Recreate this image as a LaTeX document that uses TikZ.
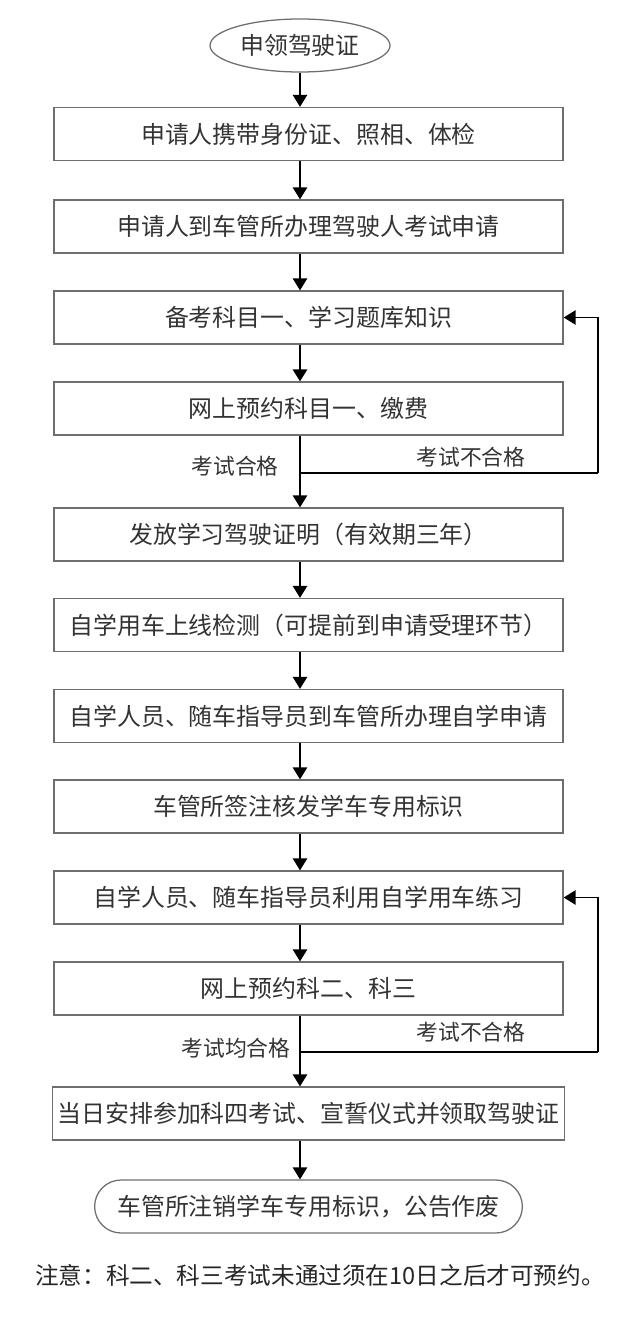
\documentclass[tikz,border=0pt]{standalone}
\usepackage{fontspec}
\newfontfamily\cjk{Noto Sans CJK SC}
\usepackage{tikz}
\usetikzlibrary{shapes.geometric,shapes.misc,arrows.meta,positioning}
\definecolor{boxgray}{HTML}{6E6E6E}
\definecolor{textgray}{HTML}{333333}
\tikzset
{
    flowbox/.style  = {rectangle, draw=boxgray, line width=0.9pt, text=textgray, align=center, minimum width=12.725cm, minimum height=1.325cm, font=\cjk\fontsize{17}{20}\selectfont},
    startnode/.style = {ellipse, draw=boxgray, line width=0.9pt, text=textgray, minimum width=4.5cm, minimum height=1.325cm, inner sep=0pt, font=\cjk\fontsize{17}{20}\selectfont},
    endnode/.style  = {rounded rectangle, draw=boxgray, line width=0.9pt, text=textgray, minimum width=10.925cm, minimum height=1.325cm, font=\cjk\fontsize{17}{20}\selectfont},
    flowarrow/.style = {line width=1.1pt, -{Triangle[length=0.3cm,width=0.36cm]}},
    flowline/.style = {line width=1.1pt},
    steplabel/.style = {text=textgray, font=\cjk\fontsize{15.5}{18}\selectfont, inner sep=0pt},
}

\begin{document}
\begin{tikzpicture}[x=0.025cm, y=-0.025cm]
		\useasboundingbox (0,0) rectangle (640,1333);
		\node[startnode] (start) at (300,45.5) {申领驾驶证};
		\node[flowbox] (b1) at (308.5,134) {申请人携带身份证、照相、体检};
		\node[flowbox] (b2) at (308.5,226.5) {申请人到车管所办理驾驶人考试申请};
		\node[flowbox] (b3) at (308.5,317.5) {备考科目一、学习题库知识};
		\node[flowbox] (b4) at (308.5,408.5) {网上预约科目一、缴费};
		\node[flowbox] (b5) at (308.5,534.5) {发放学习驾驶证明（有效期三年）};
		\node[flowbox] (b6) at (308.5,625) {自学用车上线检测（可提前到申请受理环节）};
		\node[flowbox] (b7) at (308.5,716) {自学人员、随车指导员到车管所办理自学申请};
		\node[flowbox] (b8) at (308.5,806.5) {车管所签注核发学车专用标识};
		\node[flowbox] (b9) at (308.5,897.5) {自学人员、随车指导员利用自学用车练习};
		\node[flowbox] (b10) at (308.5,988.5) {网上预约科二、科三};
		\node[flowbox] (b11) at (308.5,1113.5) {当日安排参加科四考试、宣誓仪式并领取驾驶证};
		\node[endnode] (finish) at (308.5,1206.5) {车管所注销学车专用标识，公告作废};
		% main flow
		\draw[flowarrow] (start.south) -- (b1.north -| start.south);
		\draw[flowarrow] (b1.south -| start.south) -- (b2.north -| start.south);
		\draw[flowarrow] (b2.south -| start.south) -- (b3.north -| start.south);
		\draw[flowarrow] (b3.south -| start.south) -- (b4.north -| start.south);
		\draw[flowarrow] (b4.south -| start.south) -- (b5.north -| start.south);
		\draw[flowarrow] (b5.south -| start.south) -- (b6.north -| start.south);
		\draw[flowarrow] (b6.south -| start.south) -- (b7.north -| start.south);
		\draw[flowarrow] (b7.south -| start.south) -- (b8.north -| start.south);
		\draw[flowarrow] (b8.south -| start.south) -- (b9.north -| start.south);
		\draw[flowarrow] (b9.south -| start.south) -- (b10.north -| start.south);
		\draw[flowarrow] (b10.south -| start.south) -- (b11.north -| start.south);
		\draw[flowarrow] (b11.south -| start.south) -- (finish.north -| start.south);
		% retry loops
		\coordinate (fork1) at (300,473);
		\coordinate (back1) at (598,473);
		\draw[flowline] (fork1) -- (back1);
		\draw[flowarrow] (back1) |- (b3.east);
		\coordinate (fork2) at (300,1052);
		\coordinate (back2) at (598,1052);
		\draw[flowline] (fork2) -- (back2);
		\draw[flowarrow] (back2) |- (b9.east);
		\node[steplabel] (pass1) at (235,466) {考试合格};
		\node[steplabel] (fail1) at (471,457) {考试不合格};
		\node[steplabel] (pass2) at (236,1048) {考试均合格};
		\node[steplabel] (fail2) at (471,1032) {考试不合格};
		\node[steplabel, font=\cjk\fontsize{16.8}{20}\selectfont, text=black!85] (note) at (320,1275) {注意：科二、科三考试未通过须在10日之后才可预约。};
\end{tikzpicture}
\end{document}
